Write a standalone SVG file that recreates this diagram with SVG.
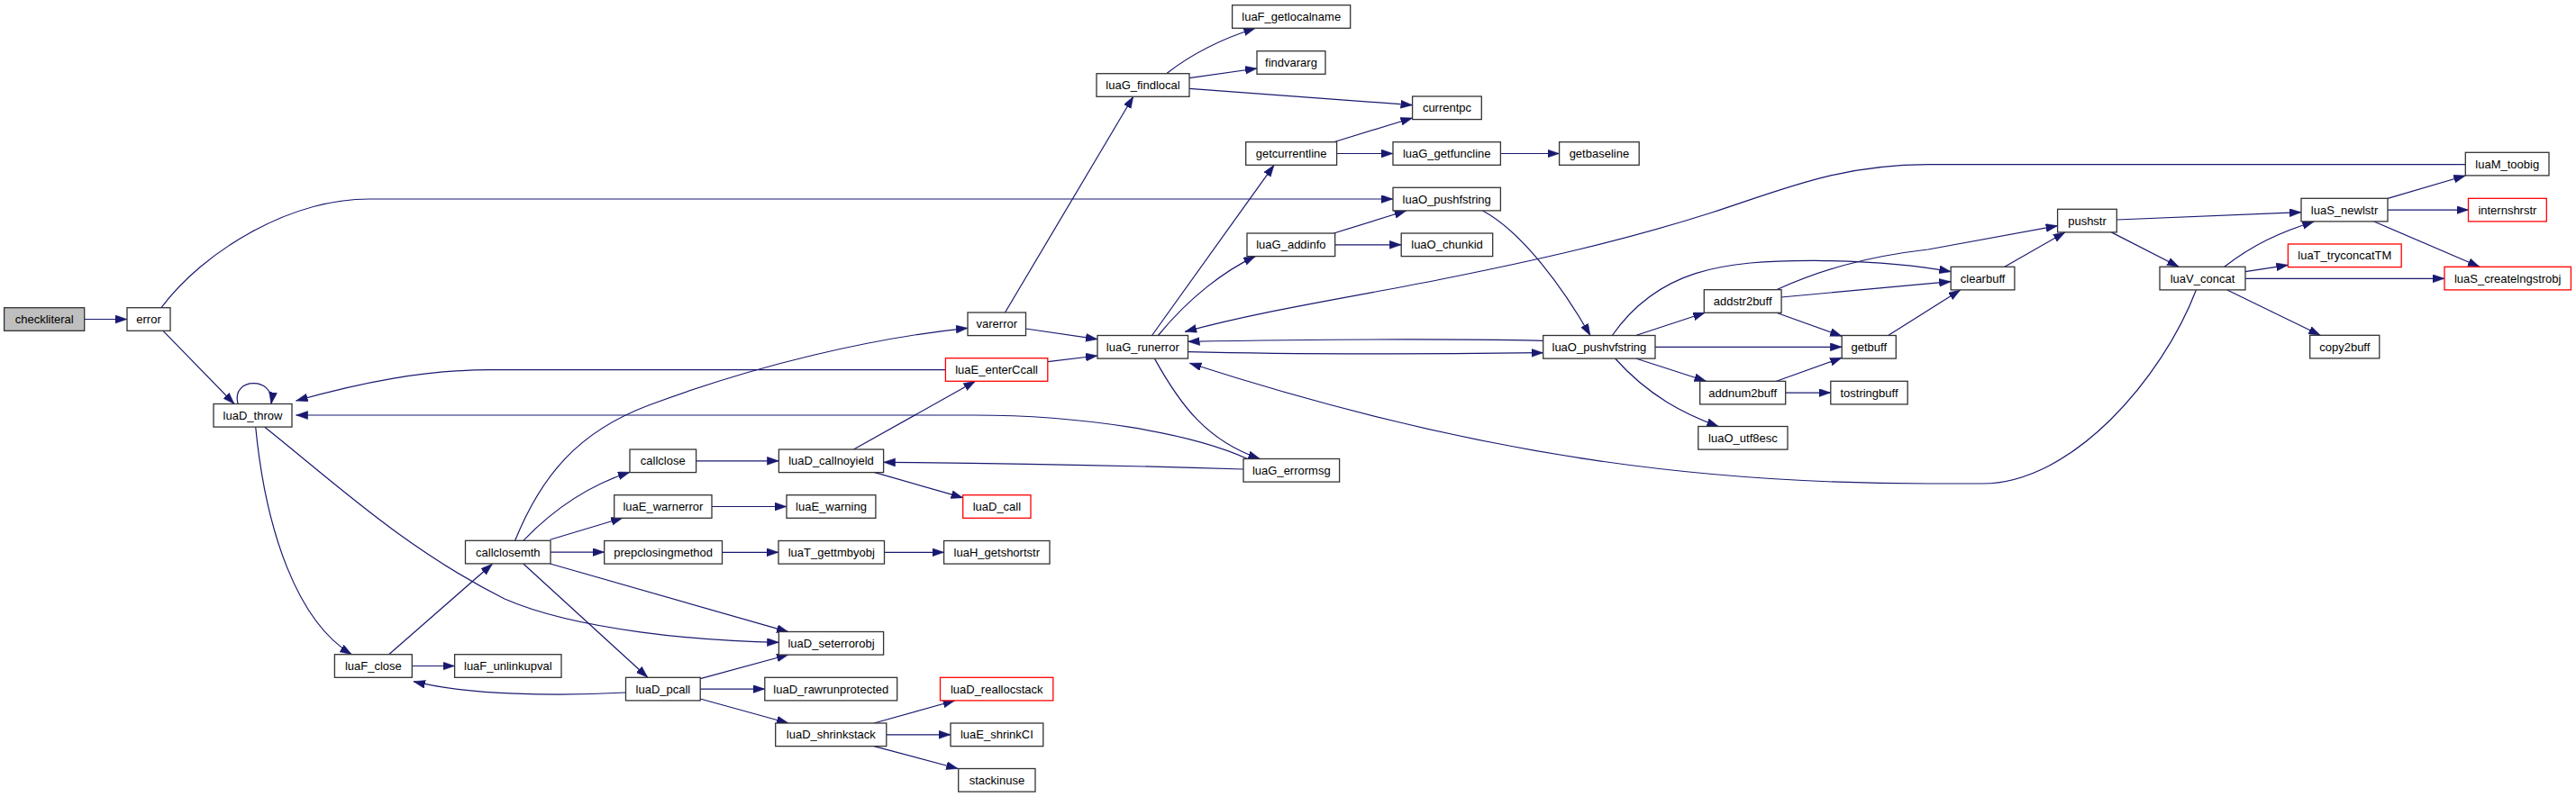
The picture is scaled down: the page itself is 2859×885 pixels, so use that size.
<svg xmlns="http://www.w3.org/2000/svg" width="2859" height="885" viewBox="0 0 2859 885">
<style>
.n rect{fill:#fff;stroke:#333;stroke-width:1.3}
.n.red rect{stroke:#ff0000}
.n.root rect{fill:#bfbfbf}
.n text{font-family:"Liberation Sans",Arial,sans-serif;font-size:13px;text-anchor:middle;fill:#000}
.e path{fill:none;stroke:#191970;stroke-width:1.2;marker-end:url(#a)}
</style>
<defs>
<marker id="a" markerUnits="userSpaceOnUse" markerWidth="14" markerHeight="10" refX="13" refY="4.5" orient="auto">
<path d="M0,0 L13,4.5 L0,9 z" fill="#191970" stroke="#191970" stroke-width="0.5"/>
</marker>
</defs>
<rect width="2859" height="885" fill="#fff"/>
<g class="e" id="edges">
<path d="M93.7,354.5 L141,354.5"/>
<path d="M181,367.3 L260,448.5"/>
<path d="M179,341.7 C225,280 320,221 410,221 L1546,221"/>
<path d="M264,448.5 C256,418 306,418 301,448.5"/>
<path d="M283.7,474.3 C295,590 330,690 390.3,726.7"/>
<path d="M293.8,474.3 C370,535 450,610 560,665 C640,700 780,712 864.4,713.3"/>
<path d="M610.6,626 L875,701.7"/>
<path d="M431.6,726.7 L546.4,626.3"/>
<path d="M457.3,739.5 L504.6,739.5"/>
<path d="M694.5,769 C620,773 520,772 459,756.7"/>
<path d="M580.8,626 L718.9,752.3"/>
<path d="M580.8,600.3 C610,570 650,540 699,524.3"/>
<path d="M610.6,599.3 L691.3,575"/>
<path d="M611,613.1 L670.7,613.1"/>
<path d="M571.6,600.3 C600,530 640,480 720,450 C840,405 970,375 1074,364.3"/>
<path d="M772.6,511.8 L864.4,511.8"/>
<path d="M947.5,499 L1082.5,423.3"/>
<path d="M970,524.3 L1068.7,552.7"/>
<path d="M1162.8,401.7 L1218,395"/>
<path d="M1049.4,410.7 L544,410.7 C470,410.7 400,425 328.6,445"/>
<path d="M790,562.5 L873,562.5"/>
<path d="M801.5,613.3 L864,613.3"/>
<path d="M981.5,613.3 L1047.6,613.3"/>
<path d="M777.2,753.7 L875,727"/>
<path d="M777.2,765.1 L848.8,765.1"/>
<path d="M777.2,776 L875,803"/>
<path d="M970,803 L1059.6,778"/>
<path d="M983.8,815.8 L1055,815.8"/>
<path d="M970,828.6 L1063.2,853.5"/>
<path d="M1115.5,347 L1257.8,107.3"/>
<path d="M1138.5,365 L1218,376.7"/>
<path d="M1294.6,81.7 C1320,62 1350,45 1393.3,31.3"/>
<path d="M1320,86.7 L1395,76"/>
<path d="M1320,98.3 L1567.6,116.7"/>
<path d="M1278.5,372.5 L1414,183.3"/>
<path d="M1285.4,372.5 C1320,330 1360,300 1393.3,284.6"/>
<path d="M1318.5,390.7 C1450,394 1600,393 1712.7,391.7"/>
<path d="M1712.7,378.3 C1600,376 1450,377 1318.5,379.3"/>
<path d="M1281.4,398.1 C1310,450 1340,490 1398.4,509.5"/>
<path d="M1384.7,509.5 C1320,480 1200,461 1080,461 L328.6,461"/>
<path d="M1380,521 C1250,517 1100,514 980.6,513.3"/>
<path d="M1480.3,157.7 L1567.6,131"/>
<path d="M1483.6,170.5 L1546,170.5"/>
<path d="M1665.4,170.5 L1730.6,170.5"/>
<path d="M1480.3,259 L1560.7,234"/>
<path d="M1481.7,271.8 L1555.2,271.8"/>
<path d="M1645.6,234 C1690,258 1735,320 1765,372.5"/>
<path d="M1815.5,372.5 L1892.2,347.3"/>
<path d="M1837,385.3 L2044.2,385.3"/>
<path d="M1815.5,398 L1893.6,423.3"/>
<path d="M1792.5,398 C1830,440 1870,460 1907.3,473.5"/>
<path d="M1789.3,372.5 C1840,300 1910,289 2015,289.3 C2080,290 2130,295 2165.2,301.7"/>
<path d="M1971.6,321.7 C2020,300 2070,285 2140,277 L2283.6,250.7"/>
<path d="M1977,330 L2165.2,312.7"/>
<path d="M1971.6,347.3 L2044.2,373.3"/>
<path d="M2095.6,372.5 L2175.7,322"/>
<path d="M1971.6,423.3 L2044.2,397.3"/>
<path d="M1981.7,436.1 L2031.8,436.1"/>
<path d="M2224.9,296.3 L2291.9,257.9"/>
<path d="M2349.3,244 L2554,235.7"/>
<path d="M2343.3,257.9 L2418.2,296.3"/>
<path d="M2468.7,296.3 C2500,272 2530,258 2568.3,246"/>
<path d="M2492,301.7 L2539.4,294.3"/>
<path d="M2492,309.3 L2713,309.3"/>
<path d="M2471.9,322 L2575.2,372.3"/>
<path d="M2437.4,322 C2400,420 2300,537 2200,537 L2140,537 C1900,537 1650,510 1320.4,403.3"/>
<path d="M2650,220.3 L2736.3,195"/>
<path d="M2650,233.1 L2739.5,233.1"/>
<path d="M2634.9,246 L2752,296.3"/>
<path d="M2736.3,182.7 L2140,182.7 C2040,183 1980,210 1900,236 C1800,268 1700,290 1600,310 C1500,330 1400,345 1315.2,368.3"/>
</g>
<g id="checkliteral" class="n root"><rect x="4.6" y="341.7" width="89.1" height="25.6"/><text x="49.2" y="359.1">checkliteral</text></g>
<g id="error" class="n"><rect x="141" y="341.7" width="48" height="25.6"/><text x="165" y="359.1">error</text></g>
<g id="luaD_throw" class="n"><rect x="237" y="448.5" width="87" height="25.6"/><text x="280.5" y="465.9">luaD_throw</text></g>
<g id="luaF_close" class="n"><rect x="371.4" y="726.7" width="85.9" height="25.6"/><text x="414.4" y="744.1">luaF_close</text></g>
<g id="luaF_unlinkupval" class="n"><rect x="504.6" y="726.7" width="118.4" height="25.6"/><text x="563.8" y="744.1">luaF_unlinkupval</text></g>
<g id="callclosemth" class="n"><rect x="516.5" y="600.3" width="94.5" height="25.6"/><text x="563.8" y="617.7">callclosemth</text></g>
<g id="callclose" class="n"><rect x="699" y="499" width="73.6" height="25.6"/><text x="735.8" y="516.4">callclose</text></g>
<g id="luaE_warnerror" class="n"><rect x="681.7" y="549.7" width="108.3" height="25.6"/><text x="735.9" y="567.1">luaE_warnerror</text></g>
<g id="prepclosingmethod" class="n"><rect x="670.7" y="600.5" width="130.8" height="25.6"/><text x="736.1" y="617.9">prepclosingmethod</text></g>
<g id="luaD_pcall" class="n"><rect x="694.5" y="752.3" width="82.7" height="25.6"/><text x="735.9" y="769.7">luaD_pcall</text></g>
<g id="luaD_callnoyield" class="n"><rect x="864.4" y="499" width="116.2" height="25.6"/><text x="922.5" y="516.4">luaD_callnoyield</text></g>
<g id="luaE_warning" class="n"><rect x="873" y="549.7" width="98.9" height="25.6"/><text x="922.5" y="567.1">luaE_warning</text></g>
<g id="luaT_gettmbyobj" class="n"><rect x="864" y="600.5" width="117.5" height="25.6"/><text x="922.8" y="617.9">luaT_gettmbyobj</text></g>
<g id="luaD_seterrorobj" class="n"><rect x="864.4" y="701.5" width="116.2" height="25.6"/><text x="922.5" y="718.9">luaD_seterrorobj</text></g>
<g id="luaD_rawrunprotected" class="n"><rect x="848.8" y="752.3" width="146.9" height="25.6"/><text x="922.3" y="769.7">luaD_rawrunprotected</text></g>
<g id="luaD_shrinkstack" class="n"><rect x="860.7" y="803" width="123.1" height="25.6"/><text x="922.3" y="820.4">luaD_shrinkstack</text></g>
<g id="luaD_call" class="n red"><rect x="1068.7" y="549.7" width="75.3" height="25.6"/><text x="1106.4" y="567.1">luaD_call</text></g>
<g id="luaH_getshortstr" class="n"><rect x="1047.6" y="600.5" width="117.4" height="25.6"/><text x="1106.3" y="617.9">luaH_getshortstr</text></g>
<g id="luaD_reallocstack" class="n red"><rect x="1043.5" y="752.3" width="125.3" height="25.6"/><text x="1106.2" y="769.7">luaD_reallocstack</text></g>
<g id="luaE_shrinkCI" class="n"><rect x="1055" y="803" width="102.8" height="25.6"/><text x="1106.4" y="820.4">luaE_shrinkCI</text></g>
<g id="stackinuse" class="n"><rect x="1063.7" y="853.5" width="85.3" height="25.6"/><text x="1106.4" y="870.9">stackinuse</text></g>
<g id="varerror" class="n"><rect x="1074" y="347" width="64.5" height="25.6"/><text x="1106.3" y="364.4">varerror</text></g>
<g id="luaE_enterCcall" class="n red"><rect x="1049.4" y="397.7" width="113.4" height="25.6"/><text x="1106.1" y="415.1">luaE_enterCcall</text></g>
<g id="luaG_runerror" class="n"><rect x="1218" y="372.5" width="100.5" height="25.6"/><text x="1268.3" y="389.9">luaG_runerror</text></g>
<g id="luaG_findlocal" class="n"><rect x="1217" y="81.7" width="103" height="25.6"/><text x="1268.5" y="99.1">luaG_findlocal</text></g>
<g id="luaF_getlocalname" class="n"><rect x="1367.6" y="5.7" width="131.1" height="25.6"/><text x="1433.2" y="23.1">luaF_getlocalname</text></g>
<g id="findvararg" class="n"><rect x="1395" y="56.7" width="76" height="25.6"/><text x="1433" y="74.1">findvararg</text></g>
<g id="getcurrentline" class="n"><rect x="1382.7" y="157.7" width="100.9" height="25.6"/><text x="1433.2" y="175.1">getcurrentline</text></g>
<g id="luaG_addinfo" class="n"><rect x="1384" y="259" width="97.7" height="25.6"/><text x="1432.9" y="276.4">luaG_addinfo</text></g>
<g id="luaG_errormsg" class="n"><rect x="1380" y="509.5" width="106.6" height="25.6"/><text x="1433.3" y="526.9">luaG_errormsg</text></g>
<g id="currentpc" class="n"><rect x="1567.6" y="107" width="76.7" height="25.6"/><text x="1606" y="124.4">currentpc</text></g>
<g id="luaG_getfuncline" class="n"><rect x="1546" y="157.7" width="119.4" height="25.6"/><text x="1605.7" y="175.1">luaG_getfuncline</text></g>
<g id="luaO_pushfstring" class="n"><rect x="1546" y="208.3" width="119.4" height="25.6"/><text x="1605.7" y="225.7">luaO_pushfstring</text></g>
<g id="luaO_chunkid" class="n"><rect x="1555.2" y="259" width="101.5" height="25.6"/><text x="1606" y="276.4">luaO_chunkid</text></g>
<g id="getbaseline" class="n"><rect x="1730.6" y="157.7" width="88.6" height="25.6"/><text x="1774.9" y="175.1">getbaseline</text></g>
<g id="luaO_pushvfstring" class="n"><rect x="1712.7" y="372.5" width="124.3" height="25.6"/><text x="1774.9" y="389.9">luaO_pushvfstring</text></g>
<g id="addstr2buff" class="n"><rect x="1891.3" y="321.7" width="85.8" height="25.6"/><text x="1934.2" y="339.1">addstr2buff</text></g>
<g id="addnum2buff" class="n"><rect x="1886.7" y="423.3" width="95" height="25.6"/><text x="1934.2" y="440.7">addnum2buff</text></g>
<g id="luaO_utf8esc" class="n"><rect x="1884.8" y="473.5" width="99.2" height="25.6"/><text x="1934.4" y="490.9">luaO_utf8esc</text></g>
<g id="getbuff" class="n"><rect x="2044.2" y="372.5" width="60.1" height="25.6"/><text x="2074.3" y="389.9">getbuff</text></g>
<g id="tostringbuff" class="n"><rect x="2031.8" y="423.3" width="85.4" height="25.6"/><text x="2074.5" y="440.7">tostringbuff</text></g>
<g id="clearbuff" class="n"><rect x="2165.2" y="296.3" width="70.7" height="25.6"/><text x="2200.6" y="313.7">clearbuff</text></g>
<g id="pushstr" class="n"><rect x="2283.6" y="232.3" width="65.7" height="25.6"/><text x="2316.5" y="249.7">pushstr</text></g>
<g id="luaV_concat" class="n"><rect x="2397" y="296.3" width="95" height="25.6"/><text x="2444.5" y="313.7">luaV_concat</text></g>
<g id="luaS_newlstr" class="n"><rect x="2554" y="220.3" width="96" height="25.6"/><text x="2602" y="237.7">luaS_newlstr</text></g>
<g id="luaT_tryconcatTM" class="n red"><rect x="2539.4" y="271" width="125.8" height="25.6"/><text x="2602.3" y="288.4">luaT_tryconcatTM</text></g>
<g id="copy2buff" class="n"><rect x="2563.7" y="372.3" width="77.1" height="25.6"/><text x="2602.3" y="389.7">copy2buff</text></g>
<g id="luaM_toobig" class="n"><rect x="2736.3" y="169.3" width="92.7" height="25.6"/><text x="2782.7" y="186.7">luaM_toobig</text></g>
<g id="internshrstr" class="n red"><rect x="2739.5" y="220.3" width="86.8" height="25.6"/><text x="2782.9" y="237.7">internshrstr</text></g>
<g id="luaS_createlngstrobj" class="n red"><rect x="2713" y="296.3" width="140.4" height="25.6"/><text x="2783.2" y="313.7">luaS_createlngstrobj</text></g>
</svg>
